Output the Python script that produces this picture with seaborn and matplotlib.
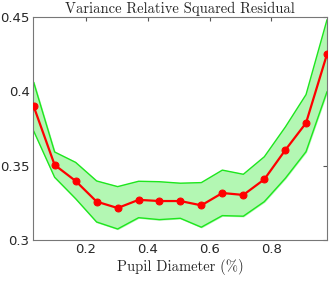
import numpy as np
import pandas as pd
import matplotlib
matplotlib.use("Agg")
import matplotlib.pyplot as plt
import seaborn as sns

# values
pupil = [0.030, 0.098, 0.166, 0.234, 0.302, 0.370, 0.437, 0.505,
         0.573, 0.641, 0.709, 0.777, 0.845, 0.912, 0.980]
mean_rsr = [0.390, 0.3505, 0.3397, 0.3258, 0.3215, 0.327, 0.3262, 0.3262,
            0.3233, 0.3316, 0.3303, 0.3408, 0.3605, 0.3787, 0.425]
upper = [0.4062, 0.3592, 0.3522, 0.3397, 0.3359, 0.3395, 0.3392, 0.3382,
         0.3386, 0.3470, 0.3442, 0.3560, 0.3760, 0.3978, 0.4482]
lower = [0.3734, 0.3422, 0.3278, 0.3121, 0.3074, 0.3150, 0.3137, 0.3146,
         0.3086, 0.3164, 0.3160, 0.3258, 0.3415, 0.3594, 0.3998]

df = pd.DataFrame({"pupil": pupil, "rsr": mean_rsr})

sns.set_style("white")
plt.rcParams['font.family'] = ['DejaVu Sans']

fig = plt.figure(figsize=(3.32, 2.82), dpi=100)
ax = fig.add_axes([0.0994, 0.149, 0.8856, 0.7907])

# variance band
ax.fill_between(pupil, lower, upper, color='#b3f7b3', zorder=1)
ax.plot(pupil, upper, color='#1ee61e', lw=1.0, zorder=2)
ax.plot(pupil, lower, color='#1ee61e', lw=1.0, zorder=2)

sns.lineplot(data=df, x="pupil", y="rsr", ax=ax, color='#ff0000', lw=1.6,
             marker='o', markersize=5, markeredgecolor='#ff0000', zorder=3)

ax.set_xlim(0.028, 0.98)
ax.set_ylim(0.3, 0.45)
ax.set_xticks([0.2, 0.4, 0.6, 0.8])
ax.set_xticklabels(["0.2", "0.4", "0.6", "0.8"])
ax.set_yticks([0.3, 0.35, 0.4, 0.45])
ax.set_yticklabels(["0.3", "0.35", "0.4", "0.45"])
ax.tick_params(direction='in', length=3, top=True, right=True, labelsize=9.5,
               color='#555555', labelcolor='#262626', pad=2.5)
for s in ax.spines.values():
    s.set_color('#777777')
    s.set_linewidth(0.8)

ax.set_title("Variance Relative Squared Residual", fontfamily='cmr10',
             fontsize=10.5, pad=3)
ax.set_xlabel("Pupil Diameter (%)", fontfamily='cmr10', fontsize=10.5,
              labelpad=2)
ax.set_ylabel("")

fig.savefig("out.png", dpi=100)
